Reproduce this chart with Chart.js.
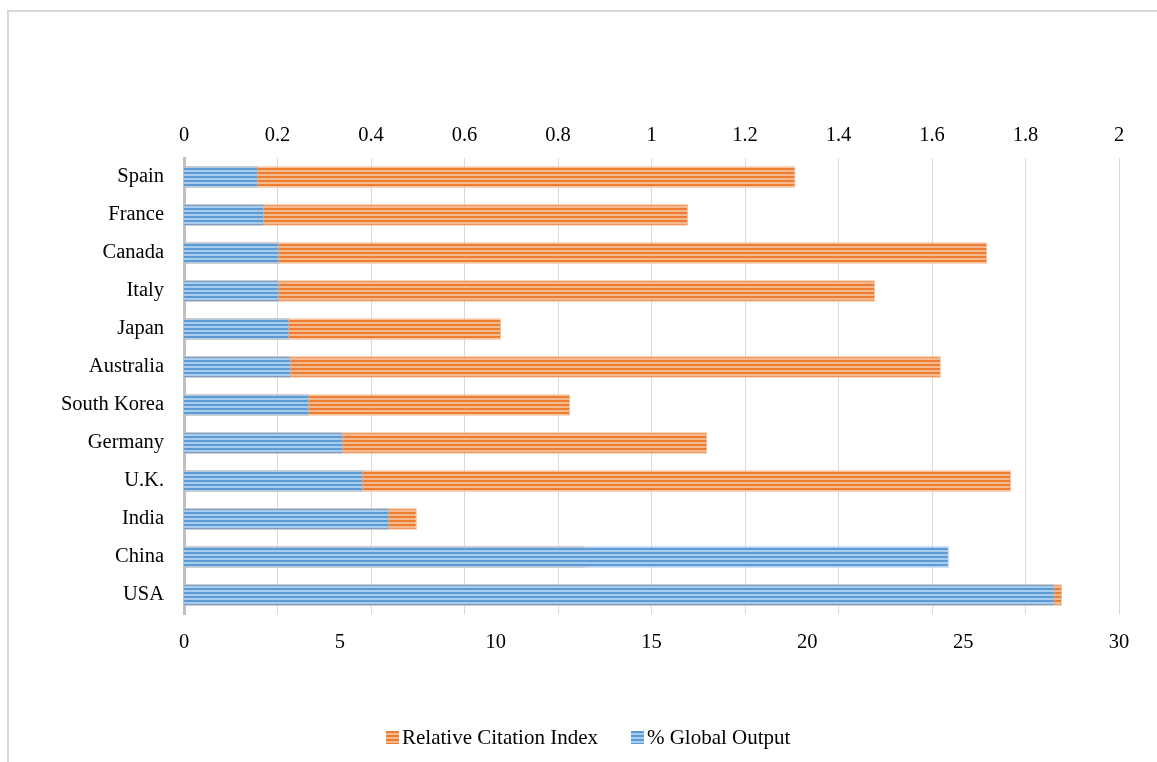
<!DOCTYPE html>
<html>
<head>
<meta charset="utf-8">
<script src="https://cdn.jsdelivr.net/npm/chart.js@4"></script>
<style>
    html, body { margin: 0; padding: 0; background: #ffffff; }
    #wrap { position: relative; width: 1157px; height: 762px; overflow: hidden; }
    #frame { position: absolute; left: 7px; top: 10px; width: 1200px; height: 800px; border-top: 2px solid #d9d9d9; border-left: 2px solid #d9d9d9; box-sizing: border-box; }
    #chart { position: absolute; left: 0; top: 0; }
    #legend { position: absolute; left: 386px; top: 726px; display: flex; align-items: center; font-family: 'Liberation Serif', 'Times New Roman', serif; font-size: 21px; line-height: 22px; color: #000; white-space: nowrap; }
    #legend .item { display: flex; align-items: center; margin-right: 33px; }
    #legend .box { width: 13px; height: 13px; margin-right: 3px; }
</style>
</head>
<body>
<div id="wrap">
    <div id="frame"></div>
    <canvas id="chart" width="1157" height="762"></canvas>
    <div id="legend"></div>
</div>
<script>
// Countries, top to bottom
const countries = ['Spain', 'France', 'Canada', 'Italy', 'Japan', 'Australia', 'South Korea', 'Germany', 'U.K.', 'India', 'China', 'USA'];

// Relative Citation Index (top axis, 0 - 2)
const citationIndex = [1.308, 1.078, 1.718, 1.478, 0.678, 1.619, 0.826, 1.119, 1.769, 0.498, 0.858, 1.878];

// % Global Output (bottom axis, 0 - 30)
const globalOutput = [2.37, 2.57, 3.05, 3.05, 3.37, 3.43, 4.01, 5.10, 5.74, 6.58, 24.54, 27.94];

const FONT = "'Liberation Serif', 'Times New Roman', serif";

const ORANGE = ['#ed7d31', '#f6b98e'];
const BLUE = ['#5b9bd5', '#a9cbec'];

// Hatched fill: horizontal stripes like the original chart
function stripePattern(ctx, dark, light) {
    const c = document.createElement('canvas');
    c.width = 4;
    c.height = 4;
    const p = c.getContext('2d');
    p.fillStyle = dark;
    p.fillRect(0, 0, 4, 2);
    p.fillStyle = light;
    p.fillRect(0, 2, 4, 2);
    return ctx.createPattern(c, 'repeat');
}

const canvas = document.getElementById('chart');
const ctx = canvas.getContext('2d');

Chart.defaults.font.family = FONT;
Chart.defaults.font.size = 20.5;
Chart.defaults.color = '#000000';

const chart = new Chart(canvas, {
    type: 'bar',
    data: {
        labels: countries,
        datasets: [{
            label: 'Relative Citation Index',
            data: citationIndex,
            xAxisID: 'x2',
            backgroundColor: stripePattern(ctx, ORANGE[0], ORANGE[1]),
            borderColor: 'rgba(244,177,131,0.9)',
            borderWidth: 1,
            grouped: false,
            order: 2,
            categoryPercentage: 1,
            barPercentage: 0.57
        }, {
            label: '% Global Output',
            data: globalOutput,
            xAxisID: 'x',
            backgroundColor: stripePattern(ctx, BLUE[0], BLUE[1]),
            borderColor: 'rgba(157,195,230,0.9)',
            borderWidth: 1,
            grouped: false,
            order: 1, // blue drawn over orange
            categoryPercentage: 1,
            barPercentage: 0.57
        }]
    },
    options: {
        indexAxis: 'y',
        responsive: false,
        animation: false,
        layout: {
            padding: { top: 0, left: 0, right: 38, bottom: 0 }
        },
        plugins: {
            tooltip: { enabled: false },
            legend: { display: false }
        },
        scales: {
            y: {
                grid: { display: false, drawTicks: false },
                border: { display: true, color: '#bfbfbf', width: 3 },
                ticks: { padding: 20 },
                afterFit: (scale) => { scale.width = 184; }
            },
            x2: {
                position: 'top',
                min: 0,
                max: 2,
                ticks: {
                    stepSize: 0.2,
                    padding: 10,
                    callback: (v) => String(+v.toFixed(1))
                },
                grid: { color: '#d9d9d9', lineWidth: 1, drawTicks: false },
                border: { display: false },
                afterFit: (scale) => { scale.height = 158; }
            },
            x: {
                position: 'bottom',
                min: 0,
                max: 30,
                ticks: { stepSize: 5, padding: 16 },
                grid: { display: false, drawTicks: false },
                border: { display: false },
                afterFit: (scale) => { scale.height = 148; }
            }
        }
    }
});

// Legend in dataset order, with the same striped swatches
const legend = document.getElementById('legend');
const swatches = [ORANGE, BLUE];
chart.data.datasets.forEach((ds, i) => {
    const item = document.createElement('div');
    item.className = 'item';
    const box = document.createElement('span');
    box.className = 'box';
    const [dark, light] = swatches[i];
    box.style.background = `repeating-linear-gradient(to bottom, ${dark} 0px, ${dark} 2px, ${light} 2px, ${light} 4px)`;
    const text = document.createElement('span');
    text.textContent = ds.label;
    item.appendChild(box);
    item.appendChild(text);
    legend.appendChild(item);
});
</script>
</body>
</html>
